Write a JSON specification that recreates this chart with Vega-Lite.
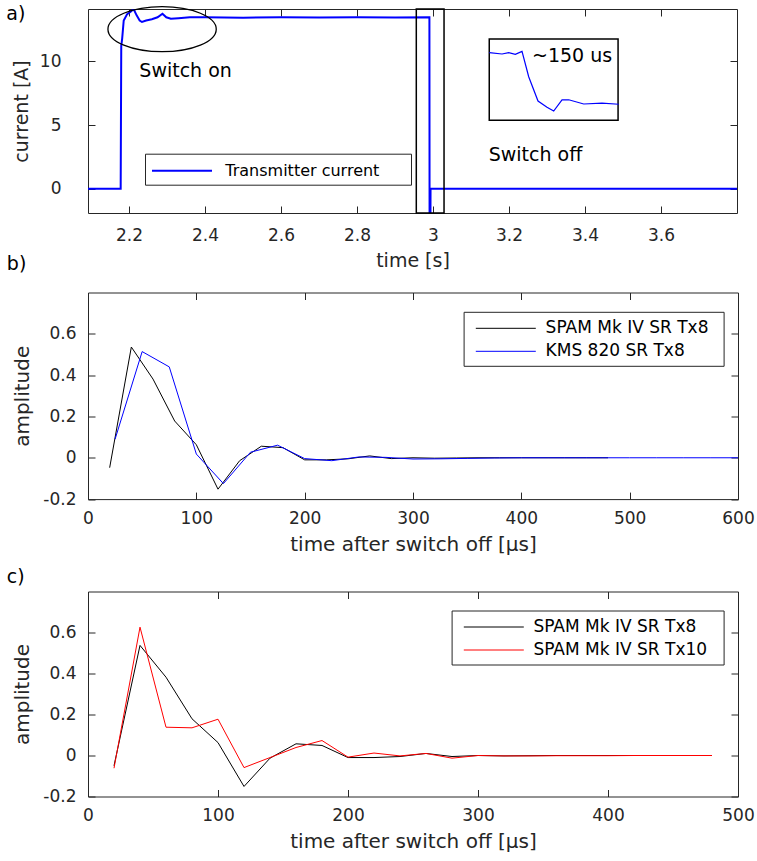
{
  "$schema": "https://vega.github.io/schema/vega-lite/v6.json",
  "background": "white",
  "padding": {"left": 5, "top": 3, "right": 5, "bottom": 5},
  "config": {
    "font": "DejaVu Sans",
    "view": {"stroke": "#262626", "strokeWidth": 1},
    "axis": {
      "domain": false, "grid": false, "labelFlush": false,
      "tickSize": -7, "tickColor": "#262626", "tickWidth": 1,
      "labelColor": "#262626", "labelFontSize": 17, "labelFont": "DejaVu Sans",
      "titleColor": "#262626", "titleFontSize": 20, "titleFontWeight": "normal", "titleFont": "DejaVu Sans"
    },
    "title": {"anchor": "start", "frame": "bounds", "fontSize": 19, "fontWeight": "normal", "color": "black", "font": "DejaVu Sans"},
    "legend": {"orient": "none", "symbolType": "M -5 0 L 1 0", "symbolSize": 400, "strokeColor": "#262626", "fillColor": "white", "title": null, "labelColor": "black", "labelFont": "DejaVu Sans", "labelLimit": 0, "padding": 6, "rowPadding": 4}
  },
  "datasets": {
    "current": [
      {"t": 2.092, "I": 0, "series": "Transmitter current"},
      {"t": 2.178, "I": 0, "series": "Transmitter current"},
      {"t": 2.1795, "I": 11.2, "series": "Transmitter current"},
      {"t": 2.182, "I": 11.8, "series": "Transmitter current"},
      {"t": 2.186, "I": 13.2, "series": "Transmitter current"},
      {"t": 2.195, "I": 13.7, "series": "Transmitter current"},
      {"t": 2.205, "I": 13.9, "series": "Transmitter current"},
      {"t": 2.212, "I": 14.1, "series": "Transmitter current"},
      {"t": 2.22, "I": 13.6, "series": "Transmitter current"},
      {"t": 2.228, "I": 13.2, "series": "Transmitter current"},
      {"t": 2.234, "I": 13.08, "series": "Transmitter current"},
      {"t": 2.245, "I": 13.2, "series": "Transmitter current"},
      {"t": 2.26, "I": 13.3, "series": "Transmitter current"},
      {"t": 2.275, "I": 13.45, "series": "Transmitter current"},
      {"t": 2.288, "I": 13.73, "series": "Transmitter current"},
      {"t": 2.298, "I": 13.45, "series": "Transmitter current"},
      {"t": 2.31, "I": 13.34, "series": "Transmitter current"},
      {"t": 2.33, "I": 13.38, "series": "Transmitter current"},
      {"t": 2.36, "I": 13.45, "series": "Transmitter current"},
      {"t": 2.4, "I": 13.45, "series": "Transmitter current"},
      {"t": 2.5, "I": 13.42, "series": "Transmitter current"},
      {"t": 2.6, "I": 13.45, "series": "Transmitter current"},
      {"t": 2.7, "I": 13.43, "series": "Transmitter current"},
      {"t": 2.8, "I": 13.45, "series": "Transmitter current"},
      {"t": 2.9, "I": 13.43, "series": "Transmitter current"},
      {"t": 2.9905, "I": 13.45, "series": "Transmitter current"},
      {"t": 2.991, "I": -4, "series": "Transmitter current"},
      {"t": 2.993, "I": -4, "series": "Transmitter current"},
      {"t": 2.9935, "I": 0, "series": "Transmitter current"},
      {"t": 3.8, "I": 0, "series": "Transmitter current"}
    ],
    "inset": [
      {"t": 3.1482, "I": 10.68}, {"t": 3.1816, "I": 10.57}, {"t": 3.1992, "I": 10.68},
      {"t": 3.2166, "I": 10.55}, {"t": 3.2342, "I": 10.78}, {"t": 3.2518, "I": 8.79},
      {"t": 3.2763, "I": 6.88}, {"t": 3.3, "I": 6.39}, {"t": 3.3176, "I": 6.1},
      {"t": 3.3395, "I": 6.98}, {"t": 3.3571, "I": 6.98}, {"t": 3.3966, "I": 6.65},
      {"t": 3.4447, "I": 6.71}, {"t": 3.4887, "I": 6.63}
    ],
    "boxes": [
      {"t1": 2.956, "t2": 3.029, "I1": -1.9, "I2": 14.1},
      {"t1": 3.148, "t2": 3.487, "I1": 5.37, "I2": 11.75}
    ],
    "ellipse": [{"t": 2.287, "I": 12.52}],
    "notes": [
      {"t": 2.2271, "I": 9.24, "label": "Switch on"},
      {"t": 3.1466, "I": 2.65, "label": "Switch off"},
      {"t": 3.2605, "I": 10.42, "label": "~150 us"}
    ],
    "b": [
      {"t": 20, "amp": -0.048, "series": "SPAM Mk IV SR Tx8"},
      {"t": 40, "amp": 0.536, "series": "SPAM Mk IV SR Tx8"},
      {"t": 60, "amp": 0.381, "series": "SPAM Mk IV SR Tx8"},
      {"t": 80, "amp": 0.178, "series": "SPAM Mk IV SR Tx8"},
      {"t": 100, "amp": 0.063, "series": "SPAM Mk IV SR Tx8"},
      {"t": 120, "amp": -0.152, "series": "SPAM Mk IV SR Tx8"},
      {"t": 140, "amp": -0.014, "series": "SPAM Mk IV SR Tx8"},
      {"t": 160, "amp": 0.056, "series": "SPAM Mk IV SR Tx8"},
      {"t": 180, "amp": 0.049, "series": "SPAM Mk IV SR Tx8"},
      {"t": 200, "amp": -0.01, "series": "SPAM Mk IV SR Tx8"},
      {"t": 220, "amp": -0.01, "series": "SPAM Mk IV SR Tx8"},
      {"t": 240, "amp": -0.005, "series": "SPAM Mk IV SR Tx8"},
      {"t": 260, "amp": 0.009, "series": "SPAM Mk IV SR Tx8"},
      {"t": 280, "amp": -0.004, "series": "SPAM Mk IV SR Tx8"},
      {"t": 300, "amp": 0.0, "series": "SPAM Mk IV SR Tx8"},
      {"t": 320, "amp": -0.002, "series": "SPAM Mk IV SR Tx8"},
      {"t": 340, "amp": -0.001, "series": "SPAM Mk IV SR Tx8"},
      {"t": 360, "amp": 0.0, "series": "SPAM Mk IV SR Tx8"},
      {"t": 380, "amp": 0.0, "series": "SPAM Mk IV SR Tx8"},
      {"t": 400, "amp": 0.0, "series": "SPAM Mk IV SR Tx8"},
      {"t": 420, "amp": 0.0, "series": "SPAM Mk IV SR Tx8"},
      {"t": 440, "amp": 0.0, "series": "SPAM Mk IV SR Tx8"},
      {"t": 460, "amp": 0.0, "series": "SPAM Mk IV SR Tx8"},
      {"t": 480, "amp": 0.0, "series": "SPAM Mk IV SR Tx8"},
      {"t": 25, "amp": 0.09, "series": "KMS 820 SR Tx8"},
      {"t": 50, "amp": 0.514, "series": "KMS 820 SR Tx8"},
      {"t": 75, "amp": 0.44, "series": "KMS 820 SR Tx8"},
      {"t": 100, "amp": 0.018, "series": "KMS 820 SR Tx8"},
      {"t": 125, "amp": -0.125, "series": "KMS 820 SR Tx8"},
      {"t": 150, "amp": 0.027, "series": "KMS 820 SR Tx8"},
      {"t": 175, "amp": 0.061, "series": "KMS 820 SR Tx8"},
      {"t": 200, "amp": -0.004, "series": "KMS 820 SR Tx8"},
      {"t": 225, "amp": -0.014, "series": "KMS 820 SR Tx8"},
      {"t": 250, "amp": 0.004, "series": "KMS 820 SR Tx8"},
      {"t": 275, "amp": 0.002, "series": "KMS 820 SR Tx8"},
      {"t": 300, "amp": -0.006, "series": "KMS 820 SR Tx8"},
      {"t": 325, "amp": -0.005, "series": "KMS 820 SR Tx8"},
      {"t": 350, "amp": -0.003, "series": "KMS 820 SR Tx8"},
      {"t": 375, "amp": -0.001, "series": "KMS 820 SR Tx8"},
      {"t": 400, "amp": 0.0, "series": "KMS 820 SR Tx8"},
      {"t": 425, "amp": 0.0, "series": "KMS 820 SR Tx8"},
      {"t": 450, "amp": 0.0, "series": "KMS 820 SR Tx8"},
      {"t": 475, "amp": 0.0, "series": "KMS 820 SR Tx8"},
      {"t": 500, "amp": 0.0, "series": "KMS 820 SR Tx8"},
      {"t": 525, "amp": 0.0, "series": "KMS 820 SR Tx8"},
      {"t": 550, "amp": 0.0, "series": "KMS 820 SR Tx8"},
      {"t": 575, "amp": 0.0, "series": "KMS 820 SR Tx8"},
      {"t": 600, "amp": 0.0, "series": "KMS 820 SR Tx8"}
    ],
    "c": [
      {"t": 20, "amp": -0.05, "series": "SPAM Mk IV SR Tx8"},
      {"t": 40, "amp": 0.537, "series": "SPAM Mk IV SR Tx8"},
      {"t": 60, "amp": 0.382, "series": "SPAM Mk IV SR Tx8"},
      {"t": 80, "amp": 0.179, "series": "SPAM Mk IV SR Tx8"},
      {"t": 100, "amp": 0.063, "series": "SPAM Mk IV SR Tx8"},
      {"t": 120, "amp": -0.151, "series": "SPAM Mk IV SR Tx8"},
      {"t": 140, "amp": -0.013, "series": "SPAM Mk IV SR Tx8"},
      {"t": 160, "amp": 0.057, "series": "SPAM Mk IV SR Tx8"},
      {"t": 180, "amp": 0.049, "series": "SPAM Mk IV SR Tx8"},
      {"t": 200, "amp": -0.01, "series": "SPAM Mk IV SR Tx8"},
      {"t": 220, "amp": -0.01, "series": "SPAM Mk IV SR Tx8"},
      {"t": 240, "amp": -0.005, "series": "SPAM Mk IV SR Tx8"},
      {"t": 260, "amp": 0.01, "series": "SPAM Mk IV SR Tx8"},
      {"t": 280, "amp": -0.005, "series": "SPAM Mk IV SR Tx8"},
      {"t": 300, "amp": 0.0, "series": "SPAM Mk IV SR Tx8"},
      {"t": 320, "amp": -0.002, "series": "SPAM Mk IV SR Tx8"},
      {"t": 340, "amp": -0.001, "series": "SPAM Mk IV SR Tx8"},
      {"t": 360, "amp": 0.0, "series": "SPAM Mk IV SR Tx8"},
      {"t": 380, "amp": 0.0, "series": "SPAM Mk IV SR Tx8"},
      {"t": 400, "amp": 0.0, "series": "SPAM Mk IV SR Tx8"},
      {"t": 420, "amp": 0.0, "series": "SPAM Mk IV SR Tx8"},
      {"t": 440, "amp": 0.0, "series": "SPAM Mk IV SR Tx8"},
      {"t": 460, "amp": 0.0, "series": "SPAM Mk IV SR Tx8"},
      {"t": 480, "amp": 0.0, "series": "SPAM Mk IV SR Tx8"},
      {"t": 20, "amp": -0.062, "series": "SPAM Mk IV SR Tx10"},
      {"t": 40, "amp": 0.626, "series": "SPAM Mk IV SR Tx10"},
      {"t": 60, "amp": 0.138, "series": "SPAM Mk IV SR Tx10"},
      {"t": 80, "amp": 0.135, "series": "SPAM Mk IV SR Tx10"},
      {"t": 100, "amp": 0.177, "series": "SPAM Mk IV SR Tx10"},
      {"t": 120, "amp": -0.059, "series": "SPAM Mk IV SR Tx10"},
      {"t": 140, "amp": -0.01, "series": "SPAM Mk IV SR Tx10"},
      {"t": 160, "amp": 0.039, "series": "SPAM Mk IV SR Tx10"},
      {"t": 180, "amp": 0.073, "series": "SPAM Mk IV SR Tx10"},
      {"t": 200, "amp": -0.008, "series": "SPAM Mk IV SR Tx10"},
      {"t": 220, "amp": 0.012, "series": "SPAM Mk IV SR Tx10"},
      {"t": 240, "amp": -0.002, "series": "SPAM Mk IV SR Tx10"},
      {"t": 260, "amp": 0.01, "series": "SPAM Mk IV SR Tx10"},
      {"t": 280, "amp": -0.013, "series": "SPAM Mk IV SR Tx10"},
      {"t": 300, "amp": 0.0, "series": "SPAM Mk IV SR Tx10"},
      {"t": 320, "amp": -0.002, "series": "SPAM Mk IV SR Tx10"},
      {"t": 340, "amp": -0.002, "series": "SPAM Mk IV SR Tx10"},
      {"t": 360, "amp": -0.001, "series": "SPAM Mk IV SR Tx10"},
      {"t": 380, "amp": -0.001, "series": "SPAM Mk IV SR Tx10"},
      {"t": 400, "amp": -0.001, "series": "SPAM Mk IV SR Tx10"},
      {"t": 420, "amp": 0.0, "series": "SPAM Mk IV SR Tx10"},
      {"t": 440, "amp": 0.0, "series": "SPAM Mk IV SR Tx10"},
      {"t": 460, "amp": 0.0, "series": "SPAM Mk IV SR Tx10"},
      {"t": 480, "amp": 0.0, "series": "SPAM Mk IV SR Tx10"}
    ]
  },
  "bounds": "flush",
  "spacing": 79.5,
  "resolve": {"scale": {"color": "independent"}, "legend": {"color": "independent"}},
  "vconcat": [
    {
      "width": 649, "height": 204,
      "title": {"text": "a)", "offset": -20, "dx": -6},
      "resolve": {"axis": {"x": "independent", "y": "independent"}},
      "layer": [
        {
          "data": {"name": "current"},
          "mark": {"type": "line", "strokeWidth": 2, "clip": true},
          "encoding": {
            "x": {"field": "t", "type": "quantitative",
                  "scale": {"domain": [2.092, 3.8], "nice": false, "zero": false},
                  "axis": {"orient": "bottom", "title": "time [s]", "values": [2.2, 2.4, 2.6, 2.8, 3, 3.2, 3.4, 3.6], "format": ".1~f", "labelPadding": 21, "titlePadding": 8, "titleFontSize": 19}},
            "y": {"field": "I", "type": "quantitative",
                  "scale": {"domain": [-1.9, 14.1], "nice": false, "zero": false},
                  "axis": {"orient": "left", "title": "current [A]", "values": [0, 5, 10], "labelPadding": 34, "titlePadding": 8, "titleFontSize": 19}},
            "color": {"field": "series", "type": "nominal",
                      "scale": {"domain": ["Transmitter current"], "range": ["#0000ff"]},
                      "legend": {"legendX": 57, "legendY": 144.7, "symbolStrokeWidth": 2, "labelFontSize": 16, "symbolOffset": 40, "labelOffset": 12.3,
                                 "symbolType": "M -5 0 L 1 0 M 19.9 0 L 19.9 0"}}
          }
        },
        {
          "data": {"name": "boxes"},
          "mark": {"type": "rect", "filled": false, "stroke": "black", "strokeWidth": 1.5},
          "encoding": {
            "x": {"field": "t1", "type": "quantitative", "axis": {"orient": "top", "labels": false, "title": null, "values": [2.2, 2.4, 2.6, 2.8, 3, 3.2, 3.4, 3.6]}},
            "x2": {"field": "t2"},
            "y": {"field": "I1", "type": "quantitative", "axis": {"orient": "right", "labels": false, "title": null, "values": [0, 5, 10]}},
            "y2": {"field": "I2"}
          }
        },
        {
          "data": {"name": "inset"},
          "mark": {"type": "line", "color": "#0000ff", "strokeWidth": 1.2},
          "encoding": {
            "x": {"field": "t", "type": "quantitative", "axis": null},
            "y": {"field": "I", "type": "quantitative", "axis": null}
          }
        },
        {
          "data": {"name": "ellipse"},
          "mark": {"type": "point", "filled": false, "stroke": "black", "strokeWidth": 1.3, "opacity": 1, "size": 11729,
                   "shape": "M -1 0 C -1 -0.2295 -0.5523 -0.4155 0 -0.4155 C 0.5523 -0.4155 1 -0.2295 1 0 C 1 0.2295 0.5523 0.4155 0 0.4155 C -0.5523 0.4155 -1 0.2295 -1 0 Z"},
          "encoding": {
            "x": {"field": "t", "type": "quantitative", "axis": null},
            "y": {"field": "I", "type": "quantitative", "axis": null}
          }
        },
        {
          "data": {"name": "notes"},
          "mark": {"type": "text", "align": "left", "baseline": "middle", "fontSize": 19, "color": "black"},
          "encoding": {
            "x": {"field": "t", "type": "quantitative", "axis": null},
            "y": {"field": "I", "type": "quantitative", "axis": null},
            "text": {"field": "label"}
          }
        }
      ]
    },
    {
      "bounds": "flush",
      "spacing": 92,
      "resolve": {"scale": {"color": "independent"}, "legend": {"color": "independent"}},
      "vconcat": [
        {
          "width": 650, "height": 206.6,
          "title": {"text": "b)", "offset": 18, "dx": -6},
          "data": {"name": "b"},
          "resolve": {"axis": {"x": "independent", "y": "independent"}},
          "layer": [
            {
              "mark": {"type": "line", "strokeWidth": 1},
              "encoding": {
                "x": {"field": "t", "type": "quantitative", "scale": {"domain": [0, 600], "nice": false},
                      "axis": {"orient": "bottom", "title": "time after switch off [µs]", "values": [0, 100, 200, 300, 400, 500, 600], "labelPadding": 18, "titlePadding": 8}},
                "y": {"field": "amp", "type": "quantitative", "scale": {"domain": [-0.2, 0.8], "nice": false},
                      "axis": {"orient": "left", "title": "amplitude", "values": [-0.2, 0, 0.2, 0.4, 0.6], "labelPadding": 19, "titlePadding": 10,
                               "labelExpr": "replace(format(datum.value, '.1~f'), '\u2212', '-')"}},
                "color": {"field": "series", "type": "nominal",
                          "scale": {"domain": ["SPAM Mk IV SR Tx8", "KMS 820 SR Tx8"], "range": ["#000000", "#0000ff"]},
                          "legend": {"legendX": 375.6, "legendY": 19.3, "symbolStrokeWidth": 1, "labelFontSize": 17, "symbolOffset": 45.7, "labelOffset": 9.3,
                                     "symbolType": "M -5 0 L 1 0 M 18.97 0 L 18.97 0"}}
              }
            },
            {
              "mark": {"type": "line", "opacity": 0},
              "encoding": {
                "x": {"field": "t", "type": "quantitative", "axis": {"orient": "top", "labels": false, "title": null, "values": [0, 100, 200, 300, 400, 500, 600]}},
                "y": {"field": "amp", "type": "quantitative", "axis": {"orient": "right", "labels": false, "title": null, "values": [-0.2, 0, 0.2, 0.4, 0.6]}},
                "detail": {"field": "series"}
              }
            }
          ]
        },
        {
          "width": 650, "height": 205,
          "title": {"text": "c)", "offset": 4, "dx": -6},
          "data": {"name": "c"},
          "resolve": {"axis": {"x": "independent", "y": "independent"}},
          "layer": [
            {
              "mark": {"type": "line", "strokeWidth": 1},
              "encoding": {
                "x": {"field": "t", "type": "quantitative", "scale": {"domain": [0, 500], "nice": false},
                      "axis": {"orient": "bottom", "title": "time after switch off [µs]", "values": [0, 100, 200, 300, 400, 500], "labelPadding": 18, "titlePadding": 8}},
                "y": {"field": "amp", "type": "quantitative", "scale": {"domain": [-0.2, 0.8], "nice": false},
                      "axis": {"orient": "left", "title": "amplitude", "values": [-0.2, 0, 0.2, 0.4, 0.6], "labelPadding": 19, "titlePadding": 10,
                               "labelExpr": "replace(format(datum.value, '.1~f'), '\u2212', '-')"}},
                "color": {"field": "series", "type": "nominal",
                          "scale": {"domain": ["SPAM Mk IV SR Tx8", "SPAM Mk IV SR Tx10"], "range": ["#000000", "#ff0000"]},
                          "legend": {"legendX": 363.6, "legendY": 19, "symbolStrokeWidth": 1, "labelFontSize": 17, "symbolOffset": 45.7, "labelOffset": 9.1,
                                     "symbolType": "M -5 0 L 1 0 M 20.17 0 L 20.17 0"}}
              }
            },
            {
              "mark": {"type": "line", "opacity": 0},
              "encoding": {
                "x": {"field": "t", "type": "quantitative", "axis": {"orient": "top", "labels": false, "title": null, "values": [0, 100, 200, 300, 400, 500]}},
                "y": {"field": "amp", "type": "quantitative", "axis": {"orient": "right", "labels": false, "title": null, "values": [-0.2, 0, 0.2, 0.4, 0.6]}},
                "detail": {"field": "series"}
              }
            }
          ]
        }
      ]
    }
  ]
}
